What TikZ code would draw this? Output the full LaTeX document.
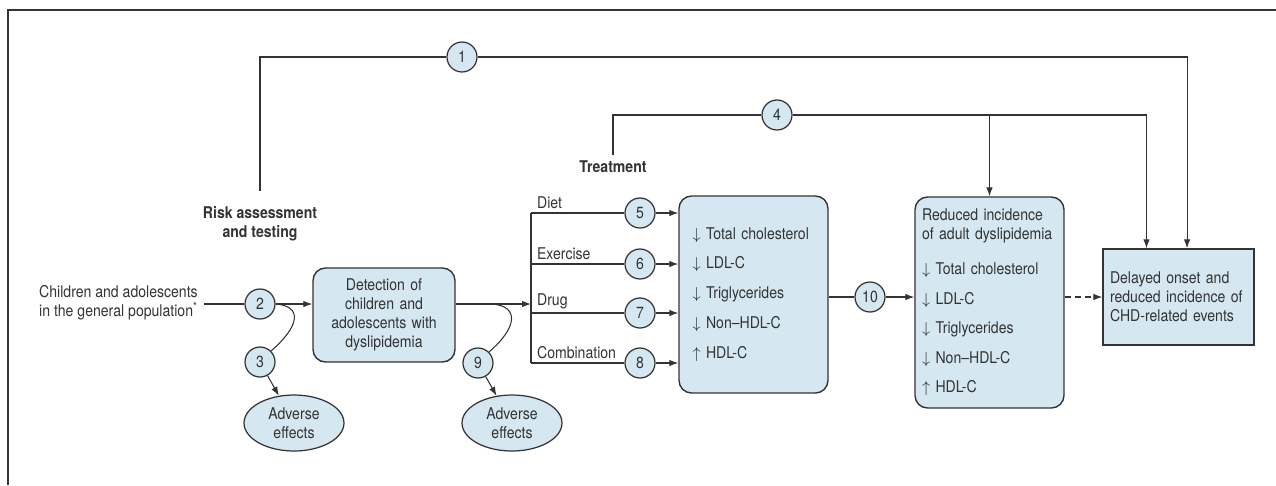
\documentclass[tikz,border=0pt]{standalone}
\usepackage{fontspec}
\setmainfont{TeX Gyre Heros}[FakeStretch=0.87]
\usetikzlibrary{arrows.meta, positioning, calc, shapes.geometric}
\definecolor{boxblue}{HTML}{D5E7F1}
\definecolor{inkgray}{HTML}{333333}

\begin{document}
\begin{tikzpicture}[x=0.02cm, y=-0.02cm, >={Latex[length=1.8mm, width=1.3mm]},
            every node/.style={font=\fontsize{9.2}{10.8}\selectfont, text=inkgray},
            num/.style={circle, draw=inkgray, fill=boxblue, minimum size=6mm, inner sep=0pt, line width=0.7pt},
            rbox/.style={rectangle, rounded corners=2.5mm, draw=inkgray, fill=boxblue, line width=0.8pt},
            sbox/.style={rectangle, draw=inkgray, fill=boxblue, line width=0.8pt},
            eff/.style={ellipse, draw=inkgray, fill=boxblue, minimum width=2cm, minimum height=1.12cm, inner sep=0pt, align=center, line width=0.7pt},
            head/.style={font=\fontsize{9.2}{10.8}\selectfont\bfseries, align=center},
            link/.style={draw=inkgray, line width=0.6pt}]

            \useasboundingbox (0,0) rectangle (1276,485);
            \draw[link] (8,485) -- (8,10) -- (1276,10);

            % Nodes
            \node[align=left, anchor=east] (pop) at (204,303) {Children and adolescents\\in the general population\textsuperscript{*}};
            \node[num] (c2) at (260,304) {2};
            \node[num] (c3) at (260,362) {3};
            \node[eff] (ae1) at (294,423) {Adverse\\effects};
            \node[rbox, minimum width=2.84cm, minimum height=1.88cm, text width=2.6cm, align=center] (det) at (384,315) {Detection of\\children and\\adolescents with\\dyslipidemia};
            \node[num] (c9) at (478,363) {9};
            \node[eff] (ae2) at (512,423) {Adverse\\effects};

            \coordinate (split) at (531,304);
            \coordinate (sp9) at (492,304);
            \foreach \n/\y in {5/213, 6/264, 7/313, 8/363} {
                \coordinate (b\n) at (531,\y);
                \node[num] (c\n) at (640,\y) {\n};
            }
            \node[anchor=south west, inner sep=1pt] (l5) at ($(b5)+(4,-2)$) {Diet};
            \node[anchor=south west, inner sep=1pt] (l6) at ($(b6)+(4,-2)$) {Exercise};
            \node[anchor=south west, inner sep=1pt] (l7) at ($(b7)+(4,-2)$) {Drug};
            \node[anchor=south west, inner sep=1pt] (l8) at ($(b8)+(4,-2)$) {Combination};

            \node[rbox, text width=2.44cm, inner xsep=0.27cm, minimum height=3.94cm, align=left] (labs) at (753.5,294.5)
                {$\downarrow$ Total cholesterol\\[6.2pt] $\downarrow$ LDL-C\\[6.2pt] $\downarrow$ Triglycerides\\[6.2pt] $\downarrow$ Non--HDL-C\\[6.2pt] $\uparrow$ HDL-C};
            \node[num] (c10) at (870,297) {10};
            \node[rbox, text width=2.7cm, inner xsep=0.14cm, minimum height=4.22cm, align=left] (red) at (989.5,302.5)
                {Reduced incidence\\of adult dyslipidemia\\[9pt] $\downarrow$ Total cholesterol\\[6pt] $\downarrow$ LDL-C\\[6pt] $\downarrow$ Triglycerides\\[6pt] $\downarrow$ Non--HDL-C\\[6pt] $\uparrow$ HDL-C};
            \node[sbox, text width=2.74cm, inner xsep=0.14cm, minimum height=1.92cm, align=left] (del) at (1178.5,297)
                {Delayed onset and\\reduced incidence of\\CHD-related events};

            \node[num] (c1) at (462,57) {1};
            \node[num] (c4) at (777,115) {4};
            \node[head] (risk) at (260,224) {Risk assessment\\and testing};
            \node[head] (treat) at (613,167) {Treatment};
            \coordinate (d1) at ($(del.north west)!0.556!(del.north east)$);
            \coordinate (d4) at ($(del.north west)!0.29!(del.north east)$);

            % Edges
            \draw[link] (pop.east |- c2) -- (c2);
            \draw[link, ->] (c2) -- (c2 -| det.west);
            \draw[link] (c2.east) .. controls ($(c2.east)+(27,2)$) and ($(c3.north east)+(29,-25)$) .. (c3.north east);
            \draw[link, ->] (c3) -- (ae1);
            \draw[link, ->] (det.east |- split) -- (split);
            \draw[link] (sp9) .. controls ($(sp9)+(27,2)$) and ($(c9.north east)+(29,-25)$) .. (c9.north east);
            \draw[link, ->] (c9) -- (ae2);
            \draw[link] (b5) -- (b8);
            \foreach \n in {5,...,8} {
                \draw[link] (b\n) -- (c\n);
                \draw[link, ->] (c\n) -- (c\n -| labs.west);
            }
            \draw[link] (labs.east |- c10) -- (c10);
            \draw[link, ->] (c10) -- (c10 -| red.west);
            \draw[link, ->, dash pattern=on 1.2mm off 0.8mm] (red.east |- del) -- (del.west);

            \draw[link, shorten <=0.2cm] (risk.north) |- (c1);
            \draw[link, ->] (c1) -| (d1);
            \draw[link] (treat.north) |- (c4);
            \draw[link, ->] (c4) -| (d4);
            \draw[link, ->] (c4 -| red.north) -- (red.north);
\end{tikzpicture}
\end{document}
